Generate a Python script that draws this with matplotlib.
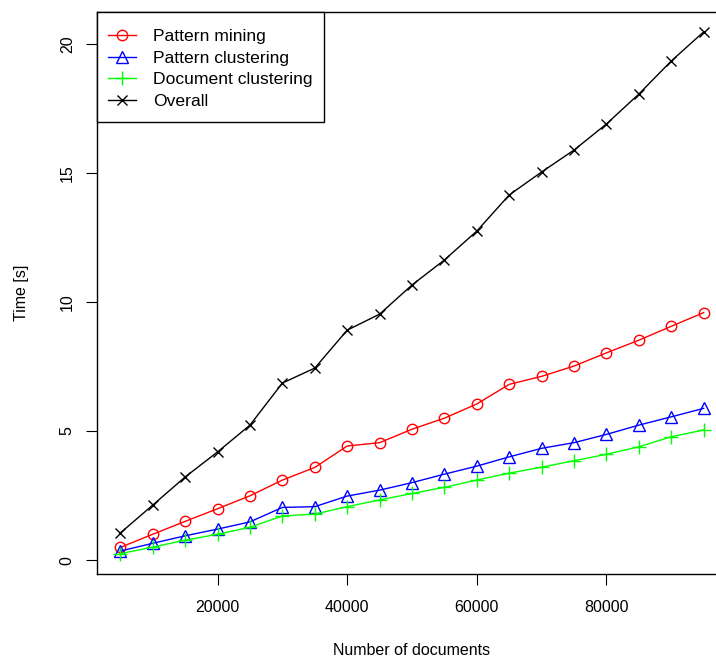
import matplotlib
matplotlib.use("Agg")
import matplotlib.pyplot as plt
from matplotlib.path import Path
import numpy as np

# number of documents
docs = [5000, 10000, 15000, 20000, 25000, 30000, 35000, 40000, 45000, 50000,
        55000, 60000, 65000, 70000, 75000, 80000, 85000, 90000, 95000]

pattern_mining = [0.49, 1.0, 1.5, 1.99, 2.49, 3.1, 3.59, 4.42, 4.55, 5.07,
                  5.50, 6.05, 6.81, 7.12, 7.52, 8.03, 8.52, 9.06, 9.59]
pattern_clustering = [0.35, 0.65, 0.94, 1.2, 1.48, 2.04, 2.07, 2.48, 2.71, 3.0,
                      3.33, 3.64, 4.0, 4.33, 4.55, 4.87, 5.23, 5.55, 5.88]
document_clustering = [0.25, 0.5, 0.77, 1.0, 1.27, 1.71, 1.78, 2.07, 2.33, 2.58,
                       2.82, 3.1, 3.37, 3.6, 3.85, 4.1, 4.39, 4.78, 5.04]
overall = [1.05, 2.13, 3.22, 4.19, 5.23, 6.86, 7.44, 8.91, 9.53, 10.66,
           11.63, 12.75, 14.15, 15.04, 15.89, 16.9, 18.06, 19.34, 20.47]

xticks = [20000, 40000, 60000, 80000]
yticks = [0, 5, 10, 15, 20]


def tall_box(x0, y0, width, height, mutation_size):
    # R legend box: a bit more room above and below the entries
    top = 6
    bottom = 2
    x1 = x0 + width
    ya = y0 - bottom
    yb = y0 + height + top
    return Path([(x0, ya), (x1, ya), (x1, yb), (x0, yb), (x0, ya)], closed=True)


def main():
    plt.rcParams['font.family'] = ['Liberation Sans', 'DejaVu Sans']
    plt.rcParams['font.size'] = 11.5

    fig = plt.figure(figsize=(7.16, 6.6), dpi=100)
    ax = fig.add_axes([97 / 716, 86 / 660, 630 / 716, 562 / 660])

    ax.plot(docs, pattern_mining, color="#FF0000", lw=1, marker="o", ms=7.5,
            mfc="none", mew=1, label="Pattern mining")
    ax.plot(docs, pattern_clustering, color="#0000FF", lw=1, marker="^", ms=8,
            mfc="none", mew=1, label="Pattern clustering")
    ax.plot(docs, document_clustering, color="#00FF00", lw=1, marker="+", ms=10,
            mew=1, label="Document clustering")
    ax.plot(docs, overall, color="black", lw=1, marker="x", ms=7.5,
            mew=1, label="Overall")

    ax.set_xlim(1400, 98600)
    ax.set_ylim(-0.54, 21.24)

    ax.set_xticks(xticks)
    ax.set_xticklabels([str(t) for t in xticks])
    ax.set_yticks(yticks)
    ax.set_yticklabels([str(t) for t in yticks], rotation=90, va="center")
    ax.tick_params(axis="x", direction="out", length=8, width=0.8, pad=11)
    ax.tick_params(axis="y", direction="out", length=8, width=0.8, pad=8)

    for s in ax.spines.values():
        s.set_linewidth(1)

    ax.set_xlabel("Number of documents", labelpad=20)
    ax.set_ylabel("Time [s]", labelpad=22)

    leg = ax.legend(loc="upper left", bbox_to_anchor=(0, 1 - 6 / 562),
                    borderaxespad=0, fancybox=False, edgecolor="black",
                    framealpha=1, fontsize=12.6, handlelength=1.6,
                    handletextpad=1.0, labelspacing=0.36, borderpad=0.62)
    leg.get_frame().set_linewidth(1)
    leg.get_frame().set_boxstyle(tall_box)

    fig.savefig("out.png", dpi=100)
#end of main()


if __name__ == "__main__":
    main()
